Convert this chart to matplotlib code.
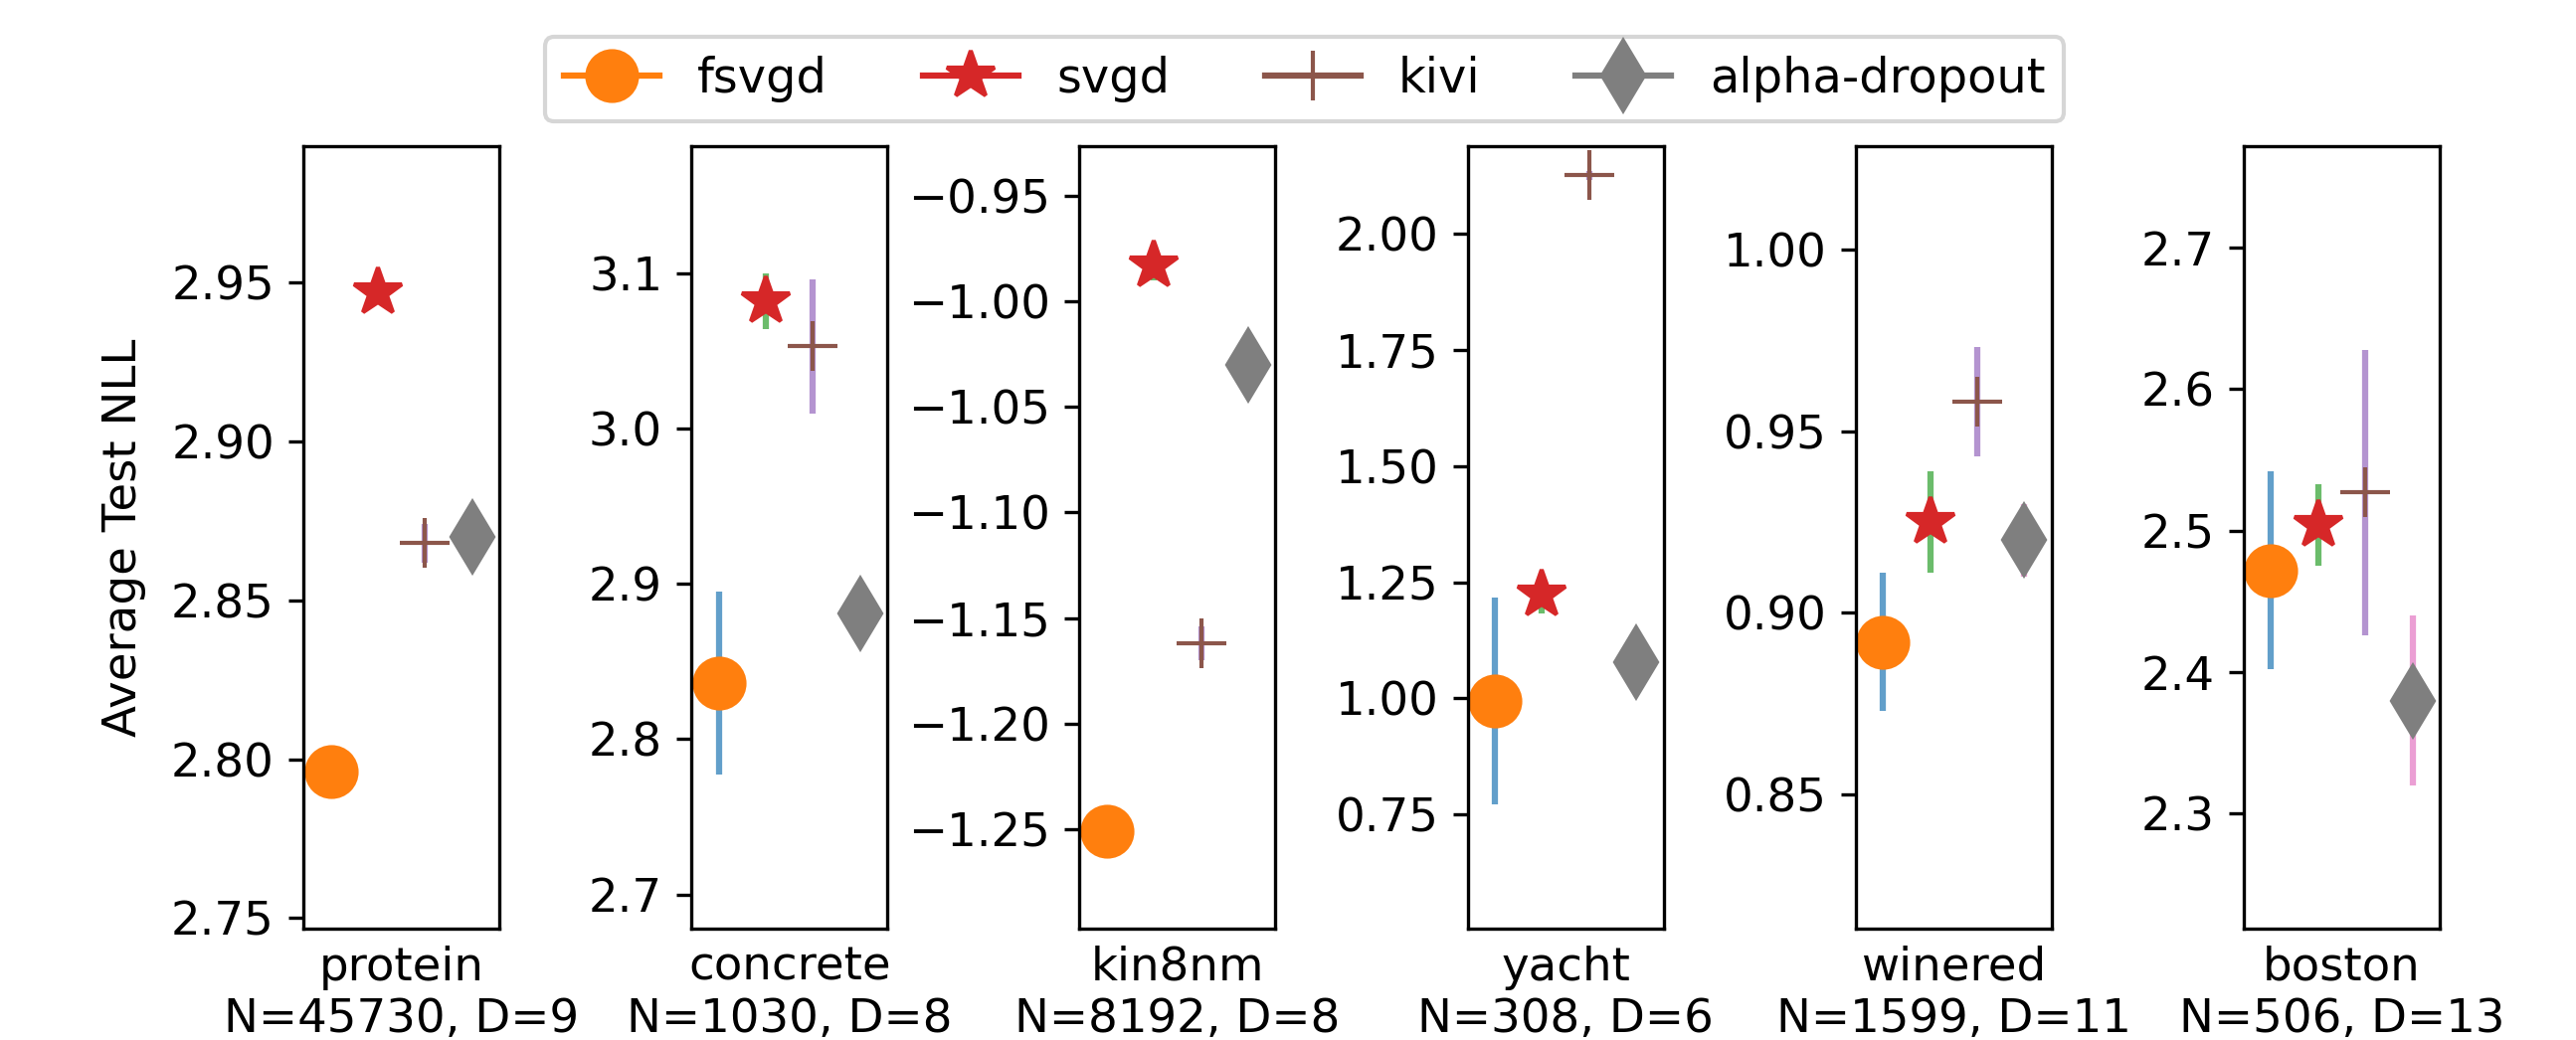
import numpy as np
import matplotlib.pyplot as plt

datasets = ['protein', 'concrete', 'kin8nm', 'yacht', 'winered', 'boston']
n_points = [45730, 1030, 8192, 308, 1599, 506]
n_dims = [9, 8, 8, 6, 11, 13]

methods = ['fsvgd', 'svgd', 'kivi', 'alpha-dropout']

fsvgd_mean = [2.796, 2.836, -1.251, 0.994, 0.892, 2.472]
fsvgd_std = [0.004, 0.059, 0.004, 0.222, 0.019, 0.070]
svgd_mean = [2.947, 3.082, -0.983, 1.223, 0.925, 2.504]
svgd_std = [0.002, 0.018, 0.007, 0.040, 0.014, 0.029]
kivi_mean = [2.868, 3.053, -1.162, 2.125, 0.958, 2.527]
kivi_std = [0.006, 0.043, 0.008, 0.010, 0.015, 0.101]
alpha_mean = [2.870, 2.881, -1.030, 1.079, 0.920, 2.380]
alpha_std = [0.003, 0.005, 0.004, 0.030, 0.010, 0.060]

ylims = [(2.7467, 2.993), (2.678, 3.182), (-1.297, -0.9266),
         (0.505, 2.188), (0.8131, 1.0284), (2.2188, 2.7718)]

means = [fsvgd_mean, svgd_mean, kivi_mean, alpha_mean]
stds = [fsvgd_std, svgd_std, kivi_std, alpha_std]
markers = ['o', '*', '+', 'd']

plt.rcParams['font.size'] = 11.2

fig, axes = plt.subplots(1, 6, figsize=(2590 / 300, 1046 / 300), dpi=300)
fig.subplots_adjust(left=0.1178, right=0.9471, top=0.8595, bottom=0.1071, wspace=0.981)

for i, ax in enumerate(axes):
    for j in range(len(methods)):
        # error bar in the even cycle colour, marker in the odd one
        ax.errorbar(j, means[j][i], yerr=stds[j][i], fmt='none',
                    ecolor='C%d' % (2 * j), alpha=0.7, elinewidth=1.5)
        ax.plot(j, means[j][i], marker=markers[j], color='C%d' % (2 * j + 1),
                markersize=12, label=methods[j])
    ax.set_xlim(-0.58, 3.58)
    ax.set_ylim(ylims[i])
    ax.set_xticks([])
    ax.set_xlabel('%s\nN=%d, D=%d' % (datasets[i], n_points[i], n_dims[i]))

axes[0].set_ylabel('Average Test NLL', labelpad=6)

handles, labels = axes[0].get_legend_handles_labels()
fig.legend(handles, labels, loc='upper center', ncol=4,
           bbox_to_anchor=(0.5064, 0.9646), borderaxespad=0, fontsize=11.5)

fig.savefig('out.png', dpi=300)
